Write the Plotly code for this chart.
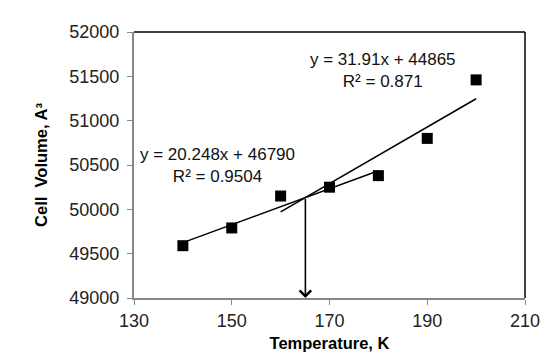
import plotly.graph_objects as go

temperature = [140, 150, 160, 170, 180, 190, 200]
cell_volume = [49590, 49790, 50150, 50250, 50380, 50800, 51460]

fit1_range = [140, 180]
fit1_coef = [20.248, 46790]
fit2_range = [160, 200]
fit2_coef = [31.91, 44865]

eq1_text = "y = 20.248x + 46790<br>R² = 0.9504"
eq2_text = "y = 31.91x + 44865<br>R² = 0.871"

x_ticks = [130, 150, 170, 190, 210]
y_ticks = [49000, 49500, 50000, 50500, 51000, 51500, 52000]

fig = go.Figure()

for rng, (m, b) in [(fit1_range, fit1_coef), (fit2_range, fit2_coef)]:
    fig.add_trace(go.Scatter(x=rng, y=[m * rng[0] + b, m * rng[1] + b], mode="lines",
                             line=dict(color="black", width=1.5), showlegend=False, hoverinfo="skip"))

fig.add_trace(go.Scatter(x=temperature, y=cell_volume, mode="markers",
                         marker=dict(symbol="square", size=11, color="black"), showlegend=False))

# intersection arrow
xi = (fit1_coef[1] - fit2_coef[1]) / (fit2_coef[0] - fit1_coef[0])
yi = fit1_coef[0] * xi + fit1_coef[1]
fig.add_annotation(x=xi, y=49000, ax=xi, ay=yi, xref="x", yref="y", axref="x", ayref="y",
                   showarrow=True, arrowhead=4, arrowsize=1.4, arrowwidth=1.6, arrowcolor="black", text="")

eq_font = dict(family="Liberation Sans, Arial", size=17, color="#111")
fig.add_annotation(x=147.1, y=50500, xref="x", yref="y", text=eq1_text, showarrow=False,
                   font=eq_font, align="center", xanchor="center", yanchor="middle")
fig.add_annotation(x=181, y=51571, xref="x", yref="y", text=eq2_text, showarrow=False,
                   font=eq_font, align="center", xanchor="center", yanchor="middle")

# top & right border
fig.add_shape(type="line", xref="paper", yref="paper", x0=0, x1=1, y0=1, y1=1, line=dict(color="black", width=1.5))
fig.add_shape(type="line", xref="paper", yref="paper", x0=1, x1=1, y0=0, y1=1, line=dict(color="black", width=1.5))

axis_font = dict(family="Liberation Sans, Arial", size=18, color="#222")
title_font = dict(family="Liberation Sans, Arial", size=16.5, color="black")
fig.update_layout(
    width=553, height=363,
    margin=dict(l=126, r=36, t=24, b=73),
    paper_bgcolor="white", plot_bgcolor="white",
    xaxis=dict(range=[130, 210], tickvals=x_ticks, showgrid=False, zeroline=False,
               showline=True, linecolor="#888", linewidth=2, ticks="outside", ticklen=5, tickcolor="#888",
               tickfont=axis_font,
               title=dict(text="<b>Temperature, K</b>", font=title_font, standoff=8)),
    yaxis=dict(range=[49000, 52000], tickvals=y_ticks, tickformat="d", showgrid=False, zeroline=False,
               showline=True, linecolor="#888", linewidth=2, ticks="outside", ticklen=5, tickcolor="#888",
               tickfont=axis_font, ticklabelstandoff=4,
               title=dict(text="<b>Cell  Volume, A³</b>", font=title_font, standoff=18)),
)

fig.write_html("out.html")
